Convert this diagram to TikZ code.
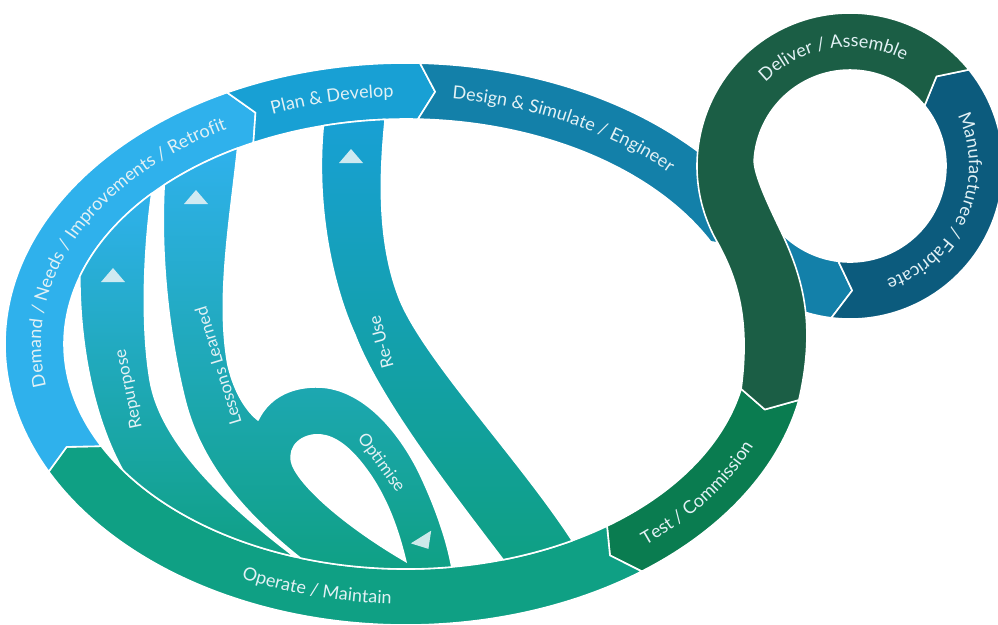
\documentclass[tikz,border=0pt]{standalone}
\usepackage{fontspec}
\setmainfont{Lato}
\usetikzlibrary{decorations.text}

\definecolor{demandblue}{HTML}{2FB1EC}
\definecolor{planblue}{HTML}{18A0D4}
\definecolor{designblue}{HTML}{1380A9}
\definecolor{testgreen}{HTML}{0A7C50}
\definecolor{operategreen}{HTML}{0FA084}
\definecolor{delivergreen}{HTML}{1B5E45}
\definecolor{manublue}{HTML}{0C5B7D}
\definecolor{lbltext}{HTML}{E2F1F5}

\newcommand\lblfont{\fontsize{18}{20}\selectfont}
\newcommand\loopfont{\fontsize{17}{19}\selectfont}
% one stage of the big ring: style, from, to, notch, tip (angles)
\newcommand\ringpart[5]{%
  \fill[#1] (#2:401 and 281) arc[outerrim, start angle=#2, end angle=#3]
    -- ({#3+#5}:371.5 and 253) -- (#3:342 and 225)
    arc[innerrim, start angle=#3, end angle=#2] -- ({#2+#4}:371.5 and 253) -- cycle;}
% small arrow mark on the loops
\newcommand\flowtip[3]{\fill[tipfill, shift={(#1,#2)}, rotate=#3] (-12,0) -- (12,0) -- (0,-14) -- cycle;}

\begin{document}
\begin{tikzpicture}[x=1pt, y=-1pt,
  part/.style={draw=white, line width=1.6pt, line join=round},
  outerrim/.style={x radius=401, y radius=281},
  innerrim/.style={x radius=342, y radius=225},
  tipfill/.style={fill=lbltext, opacity=.9},
  lbl/.style={text=lbltext, font=\loopfont, inner sep=0pt},
  ringtext/.style={decorate, decoration={text along path, text align=center, text color=lbltext}}]
\useasboundingbox (0,0) rectangle (998,624);

\begin{scope}[shift={(406,344)}]
  \ringpart{part, fill=testgreen}{11.5}{54}{3.5}{2.7}
  \ringpart{part, fill=operategreen}{54}{153}{2.7}{3}
  \ringpart{part, fill=demandblue}{153}{243.5}{3}{2.6}
  \ringpart{part, fill=planblue}{243.5}{272}{2.6}{2.5}
  % design runs on under the loop
  \fill[part, fill=designblue] (272:401 and 281) arc[outerrim, start angle=272, end angle=341]
    -- (333:342 and 225) arc[innerrim, start angle=333, end angle=272] -- ({274.5}:371.5 and 253) -- cycle;
\end{scope}

% inner loops back to the start
\shade[part, top color=demandblue, bottom color=operategreen] (151.8,193.4) arc[innerrim, start angle=222, end angle=197.5]
  .. controls (80,350) and (95,420) .. (122.5,469.8) arc[innerrim, start angle=146, end angle=109]
  .. controls (220,500) and (160,440) .. (150,380) .. controls (140,320) and (145,240) .. (151.8,193.4) -- cycle;
\shade[part, top color=demandblue, bottom color=operategreen] (164.2,184.9) arc[innerrim, start angle=225, end angle=240.5]
  .. controls (230,220) and (216,300) .. (228,365) .. controls (235,395) and (248,412) .. (258,420)
  .. controls (270,395) and (295,386) .. (320,387) .. controls (360,389) and (395,425) .. (418,470)
  .. controls (435,505) and (447,540) .. (451.8,567) arc[innerrim, start angle=82.3, end angle=108]
  .. controls (240,510) and (200,460) .. (185,400) .. controls (170,340) and (160,260) .. (164.2,184.9) -- cycle;
\fill[white] (407,563) .. controls (398,525) and (385,490) .. (360,460) .. controls (345,442) and (330,433) .. (315,434)
  .. controls (295,436) and (285,452) .. (293,468) .. controls (305,492) and (350,530) .. (407,563) -- cycle;
\shade[part, top color=planblue, bottom color=operategreen] (323.3,125.7) arc[innerrim, start angle=256, end angle=266.5]
  .. controls (378,190) and (380,250) .. (400,300) .. controls (425,360) and (520,460) .. (572.3,540.6)
  arc[innerrim, start angle=60.9, end angle=73.5]
  .. controls (450,490) and (380,400) .. (355,335) .. controls (330,280) and (316,200) .. (323.3,125.7) -- cycle;

% small ring
\begin{scope}[shift={(850,166)}]
  \fill[part, fill=designblue] (140:153) arc[start angle=140, end angle=97, radius=153] -- (89:124.5)
    -- (97:96) arc[start angle=97, end angle=140, radius=96] -- cycle;
  \fill[part, fill=manublue] (97:153) arc[start angle=97, end angle=-39, radius=153] -- (-46:124.5)
    -- (-39:96) arc[start angle=-39, end angle=97, radius=96] -- (89:124.5) -- cycle;
\end{scope}
\fill[part, fill=delivergreen] (968.9,69.7) arc[start angle=-39, end angle=-210, radius=153]
  .. controls (738,280) and (750,320) .. (741.1,388.9) -- (764.8,409.5) -- (798.9,400)
  .. controls (815,330) and (805,285) .. (785,240) .. controls (775,218) and (755,180) .. (754.1,161)
  arc[start angle=183, end angle=321, radius=96] -- (936.5,76.4) -- cycle;

% stage names
\begin{scope}[shift={(406,344)}]
  \path[ringtext, decoration={text={|\lblfont|Demand / Needs / Improvements / Retrofit}}]
    (155:365 and 247) arc[start angle=155, end angle=252, x radius=365, y radius=247];
  \path[ringtext, decoration={text={|\lblfont|Plan {\&} Develop}}]
    (238:365 and 247) arc[start angle=238, end angle=278, x radius=365, y radius=247];
  \path[ringtext, decoration={text={|\lblfont|Design {\&} Simulate / Engineer}}]
    (274:365 and 247) arc[start angle=274, end angle=320, x radius=365, y radius=247];
  \path[ringtext, decoration={text={|\lblfont|Test / Commission}}]
    (58:378 and 260) arc[start angle=58, end angle=14, x radius=378, y radius=260];
  \path[ringtext, decoration={text={|\lblfont|Operate / Maintain}}]
    (137:378 and 260) arc[start angle=137, end angle=73, x radius=378, y radius=260];
\end{scope}
\begin{scope}[shift={(850,166)}]
  \path[ringtext, decoration={text={|\lblfont|Deliver / Assemble}}]
    (-155:119) arc[start angle=-155, end angle=-43, radius=119];
  \path[ringtext, decoration={text={|\lblfont|Manufacturee / Fabricate}}]
    (-45:119) arc[start angle=-45, end angle=92, radius=119];
\end{scope}

\node[lbl, rotate=102] (repurpose) at (129,389) {Repurpose};
\node[lbl, rotate=107] (lessons) at (218,366) {Lessons Learned};
\node[lbl, rotate=105] (reuse) at (381,342) {Re-Use};
\node[lbl, rotate=-54] (optimise) at (381,463) {Optimise};

\flowtip{113}{282}{0}
\flowtip{196}{204}{0}
\flowtip{351}{163}{0}
\flowtip{421}{537}{-148}
\end{tikzpicture}
\end{document}
